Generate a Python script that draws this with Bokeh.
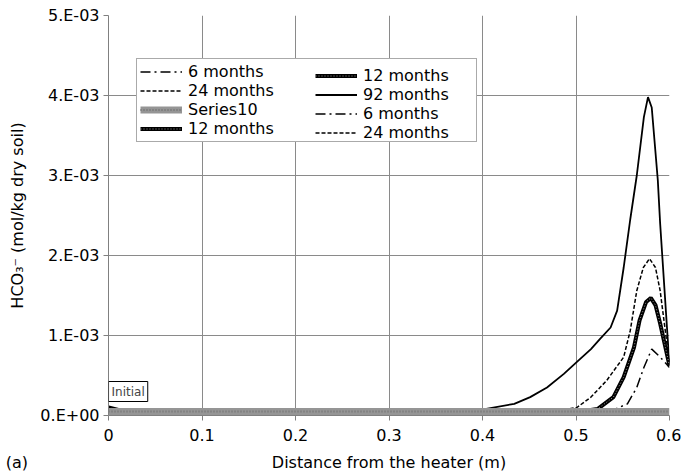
from bokeh.plotting import figure
from bokeh.models import Legend, LegendItem, Label, FixedTicker, Range1d, LinearAxis
from bokeh.embed import file_html
from bokeh.resources import INLINE

# ---- data ----
x_ticks = [0, 0.1, 0.2, 0.3, 0.4, 0.5, 0.6]
y_ticks = [0.0, 0.001, 0.002, 0.003, 0.004, 0.005]
y_tick_labels = ["0.E+00", "1.E-03", "2.E-03", "3.E-03", "4.E-03", "5.E-03"]

x_initial = [0.0, 0.6]
y_initial = [5e-5, 5e-5]

x_6m = [0, 0.02, 0.2, 0.4, 0.52, 0.54, 0.555, 0.565, 0.5726, 0.581, 0.59, 0.6]
y_6m = [1e-4, 4e-5, 1.5e-5, 3e-5, 4e-5, 7e-5, 1.46e-4, 3.5e-4, 6.0e-4, 8.3e-4, 7.3e-4, 6.0e-4]

x_12m = [0, 0.02, 0.2, 0.4, 0.5, 0.523, 0.54, 0.551, 0.562, 0.568, 0.575, 0.58, 0.585, 0.59, 0.6]
y_12m = [1e-4, 4e-5, 1.5e-5, 3e-5, 4e-5, 8e-5, 2.3e-4, 4.8e-4, 8.5e-4, 1.19e-3, 1.42e-3, 1.47e-3, 1.38e-3, 1.15e-3, 6.2e-4]

x_24m = [0, 0.02, 0.2, 0.4, 0.48, 0.501, 0.516, 0.533, 0.551, 0.558, 0.565, 0.572, 0.5786, 0.585, 0.59, 0.6]
y_24m = [1e-4, 4e-5, 1.5e-5, 3e-5, 6e-5, 1.0e-4, 2.3e-4, 4.4e-4, 7.3e-4, 1.06e-3, 1.56e-3, 1.85e-3, 1.96e-3, 1.85e-3, 1.56e-3, 6.5e-4]

x_92m = [0, 0.02, 0.1, 0.2, 0.3, 0.36, 0.398, 0.434, 0.451, 0.469, 0.487, 0.501, 0.516, 0.526,
         0.537, 0.544, 0.551, 0.558, 0.565, 0.5726, 0.577, 0.581, 0.5875, 0.59, 0.6]
y_92m = [1.0e-4, 4e-5, 2e-5, 1.5e-5, 2e-5, 3.5e-5, 7e-5, 1.46e-4, 2.3e-4, 3.5e-4, 5.2e-4, 6.7e-4, 8.3e-4, 9.6e-4,
         1.1e-3, 1.31e-3, 1.85e-3, 2.45e-3, 3.0e-3, 3.73e-3, 3.98e-3, 3.85e-3, 2.94e-3, 2.4e-3, 6.2e-4]

x_label = "Distance from the heater (m)"
panel_label = "(a)"

FONT = "DejaVu Sans"

p = figure(width=681, height=476, output_backend="svg", toolbar_location=None,
           x_range=Range1d(0, 0.6), y_range=Range1d(0, 0.005),
           min_border_left=108, min_border_right=12, min_border_top=15, min_border_bottom=61)
p.outline_line_color = None
p.background_fill_color = "white"

for ax in (p.xaxis[0], p.yaxis[0]):
    ax.axis_line_color = "#808080"
    ax.major_tick_line_color = "#808080"
    ax.minor_tick_line_color = None
    ax.major_tick_out = 5
    ax.major_tick_in = 0
    ax.major_label_text_font = FONT
    ax.major_label_text_font_size = "16px"
    ax.major_label_text_color = "black"
    ax.axis_label_text_font = FONT
    ax.axis_label_text_font_size = "16px"
    ax.axis_label_text_font_style = "normal"
    ax.axis_label_text_color = "black"

x_ticker = FixedTicker(ticks=x_ticks)
y_ticker = FixedTicker(ticks=y_ticks)
p.xaxis[0].ticker = x_ticker
p.yaxis[0].ticker = y_ticker
p.xgrid.ticker = x_ticker
p.ygrid.ticker = y_ticker
p.yaxis[0].major_label_overrides = {t: l for t, l in zip(y_ticks, y_tick_labels)}
p.yaxis[0].axis_label = "HCO\u2083\u207b (mol/kg dry soil)"
p.xaxis[0].major_label_standoff = 8
p.yaxis[0].major_label_standoff = 4
p.yaxis[0].axis_label_standoff = 10

# second, line-less axis below carrying the x title and the panel tag "(a)" on one row;
# the tag is padded on its right with no-break spaces so that it sits left of the frame
tag_pos, title_pos = 0.0, 0.3
tag_text = panel_label + "\u00a0" * 36
ax2 = LinearAxis(ticker=FixedTicker(ticks=[tag_pos, title_pos]),
                 axis_line_color=None, major_tick_line_color=None, minor_tick_line_color=None,
                 major_tick_out=0, major_tick_in=0, major_label_standoff=9,
                 major_label_text_font=FONT, major_label_text_font_size="16px",
                 major_label_text_color="black",
                 major_label_overrides={tag_pos: tag_text, title_pos: x_label})
p.add_layout(ax2, "below")

p.xgrid.grid_line_color = "#8a8a8a"
p.ygrid.grid_line_color = "#8a8a8a"

r_92 = p.line(x_92m, y_92m, line_color="black", line_width=1.8)
r_24 = p.line(x_24m, y_24m, line_color="black", line_width=1.5, line_dash="4 2")
r_12 = p.line(x_12m, y_12m, line_color="black", line_width=4)
r_12b = p.line(x_12m, y_12m, line_color="#9a9a9a", line_width=1, line_dash="1 2")
r_6 = p.line(x_6m, y_6m, line_color="black", line_width=1.5, line_dash="10 4 2 4")
r_init = p.line(x_initial, y_initial, line_color="#959595", line_width=7)
r_init2 = p.line(x_initial, y_initial, line_color="#707070", line_width=2, line_dash="1 2")

leg_common = dict(label_text_font=FONT, label_text_font_size="16px", label_text_color="black",
                  glyph_width=42, glyph_height=19, label_height=19, label_standoff=6,
                  spacing=0, padding=3, margin=0)
legA = Legend(items=[LegendItem(label="6 months", renderers=[r_6]),
                     LegendItem(label="24 months", renderers=[r_24]),
                     LegendItem(label="Series10", renderers=[r_init, r_init2]),
                     LegendItem(label="12 months", renderers=[r_12, r_12b])],
              location=(28, 273), border_line_color="#555555", border_line_width=1,
              background_fill_color="white", background_fill_alpha=1.0,
              label_width=285, **leg_common)
legB = Legend(items=[LegendItem(label="12 months", renderers=[r_12, r_12b]),
                     LegendItem(label="92 months", renderers=[r_92]),
                     LegendItem(label="6 months", renderers=[r_6]),
                     LegendItem(label="24 months", renderers=[r_24])],
              location=(207, 273), border_line_color=None, background_fill_alpha=0.0,
              **leg_common)
p.add_layout(legA, "center")
p.add_layout(legB, "center")

p.add_layout(Label(x=0.021, y=0.00030, text="Initial", text_font=FONT, text_font_size="12px",
                   text_align="center", text_baseline="middle", border_line_color="black",
                   border_line_width=1, background_fill_color="white", padding=3))

open("out.html", "w").write(file_html(p, INLINE))
